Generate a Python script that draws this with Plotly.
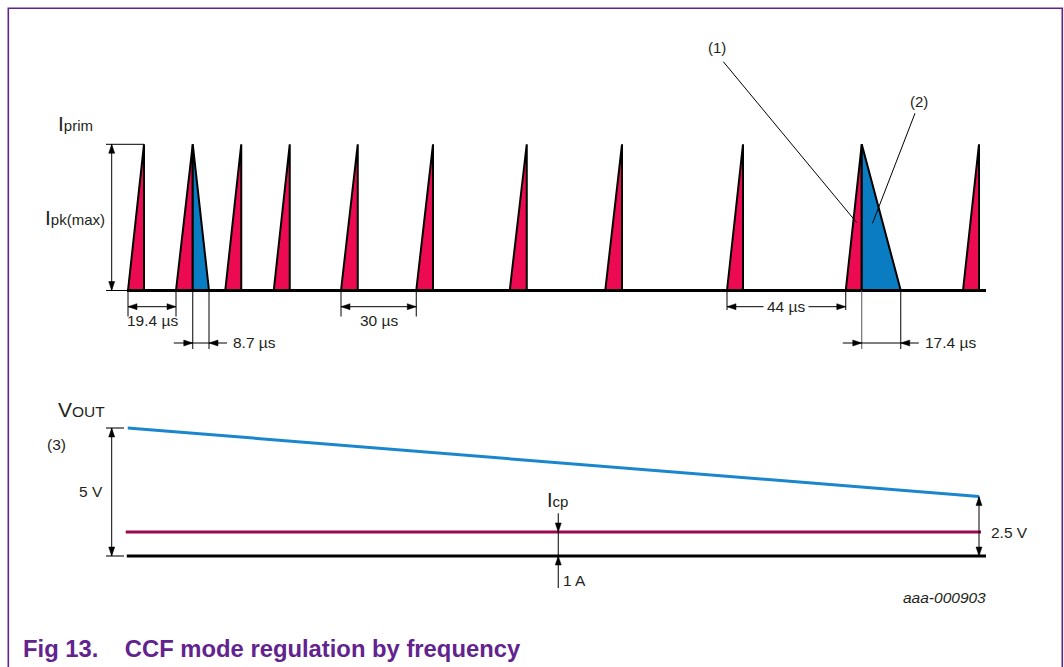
import plotly.graph_objects as go

W, H = 1064, 667

# ---------------- data (schematic time axis, µs) ----------------
pulse_start_us = [0.0, 19.2, 38.9, 58.3, 85.2, 115.3, 152.7, 190.9, 239.6, 287.1, 334.0]
pulse_on_us = [6.4, 6.7, 6.4, 6.4, 6.7, 6.7, 6.8, 6.7, 6.4, 6.4, 6.4]
demag_pulse_idx = [1, 9]
demag_us = [6.5, 15.6]
i_pk = 1.0

top_base_t = [-0.4, 343.2]

vout_t = [-0.1, 340.4]
vout_v = [5.0, 2.32]
icp_t = [-0.9, 341.2]
icp_v = [0.94, 0.94]
gnd_t = [-0.5, 343.2]
icp_marker_t = 172.1

period_pairs = [(0, 1), (4, 5), (8, 9)]
period_labels = ["19.4 µs", "30 µs", "44 µs"]
demag_labels = ["8.7 µs", "17.4 µs"]
vout_labels = ["5 V", "2.5 V"]

# ---------------- styling / mapping ----------------
FONT = "Liberation Sans, Arial, sans-serif"
TXT = "#231f20"
RED = "#EC0B52"
BLUE_FILL = "#0A7DC2"
BLUE_LINE = "#1A86CE"
MAROON = "#9A0A4B"
PURPLE = "#62238F"
GRAY = "#7a7a7a"

X0_PX, XS = 128.0, 2.5          # px of t=0, px per µs
TOPB_PX, TOPS = 290.5, 146.2    # px of I=0, px per unit I
LOWB_PX, LOWS = 556.0, 25.6     # px of V=0, px per V

def t2px(t): return X0_PX + t * XS
def px2t(px): return (px - X0_PX) / XS
def py2i(py): return (TOPB_PX - py) / TOPS
def i2py(i): return TOPB_PX - i * TOPS
def py2v(py): return (LOWB_PX - py) / LOWS
def v2py(v): return LOWB_PX - v * LOWS

fig = go.Figure()

def add_line(xs, ys, color="black", width=1, yaxis="y"):
    fig.add_trace(go.Scatter(x=xs, y=ys, mode="lines", yaxis=yaxis,
                             line=dict(color=color, width=width),
                             hoverinfo="skip", showlegend=False))

def add_poly(xs, ys, fill, color="black", width=2, yaxis="y"):
    fig.add_trace(go.Scatter(x=xs, y=ys, mode="lines", fill="toself", fillcolor=fill,
                             yaxis=yaxis, line=dict(color=color, width=width),
                             hoverinfo="skip", showlegend=False))

# arrow heads (collected, in pixel space then converted)
heads = {"y": ([], []), "y2": ([], [])}
HL, HW = 9.0, 3.0
def head(tip_px, tip_py, d, axis="y"):
    dx, dy = {"right": (1, 0), "left": (-1, 0), "up": (0, -1), "down": (0, 1)}[d]
    nx, ny = -dy, dx
    pts = [(tip_px, tip_py),
           (tip_px - HL * dx + HW * nx, tip_py - HL * dy + HW * ny),
           (tip_px - HL * dx - HW * nx, tip_py - HL * dy - HW * ny),
           (tip_px, tip_py)]
    conv = py2i if axis == "y" else py2v
    xs, ys = heads[axis]
    for (a, b) in pts:
        xs.append(px2t(a)); ys.append(conv(b))
    xs.append(None); ys.append(None)

# ---------------- top panel: primary current ----------------
add_line([px2t(106), pulse_start_us[0] + pulse_on_us[0]], [i_pk, i_pk], width=1)
add_line([px2t(106), top_base_t[0]], [0, 0], width=1)

for s, on in zip(pulse_start_us, pulse_on_us):
    add_poly([s, s + on, s + on, s], [0, i_pk, 0, 0], RED)
for k, dm in zip(demag_pulse_idx, demag_us):
    pk = pulse_start_us[k] + pulse_on_us[k]
    add_poly([pk, pk, pk + dm, pk], [0, i_pk, 0, 0], BLUE_FILL)

add_line(top_base_t, [0, 0], width=3)

xa = px2t(111.7)
add_line([xa, xa], [0, i_pk], width=1)
head(111.7, i2py(i_pk), "up")
head(111.7, i2py(0), "down")

annotations = []
def label(text, px, py, size=15.5, xanchor="left", **kw):
    annotations.append(dict(text=text, x=px / W, y=1 - py / H, xref="paper", yref="paper",
                            xanchor=xanchor, yanchor="middle", showarrow=False,
                            font=dict(family=FONT, size=size, color=kw.pop("color", TXT)), **kw))

for (a, b), lab in zip(period_pairs, period_labels):
    ta, tb = pulse_start_us[a], pulse_start_us[b]
    inline = lab == "44 µs"
    dim_py = 306.7
    ext_py = 310 if inline else 316.5
    add_line([ta, ta, None, tb, tb], [0, py2i(ext_py), None, 0, py2i(ext_py)], width=1)
    add_line([ta, tb], [py2i(dim_py)] * 2, width=1)
    head(t2px(ta), dim_py, "left")
    head(t2px(tb), dim_py, "right")
    mid = t2px((ta + tb) / 2)
    if inline:
        label(lab, mid, dim_py, xanchor="center", bgcolor="white", borderpad=3)
    else:
        label(lab, mid, 320.7, xanchor="center")

for k, dm, lab in zip(demag_pulse_idx, demag_us, demag_labels):
    pk = pulse_start_us[k] + pulse_on_us[k]
    en = pk + dm
    dim_py = 343
    col = "#555555" if k == 9 else "black"
    add_line([pk, pk], [0, py2i(349)], width=1, color=col)
    add_line([en, en], [0, py2i(349)], width=1)
    add_line([px2t(t2px(pk) - 19), px2t(t2px(en) + 18)], [py2i(dim_py)] * 2, width=1)
    head(t2px(pk), dim_py, "right")
    head(t2px(en), dim_py, "left")
    label(lab, t2px(en) + 22, dim_py)

p10 = 9
pk10 = pulse_start_us[p10] + pulse_on_us[p10]
add_line([px2t(723.3), pk10 - 2.0], [py2i(61.7), py2i(222.7)], width=1)
add_line([px2t(915.0), pk10 + 4.3], [py2i(113.3), py2i(223.3)], width=1)
label("(1)", 717, 48, size=15, xanchor="center")
label("(2)", 919, 101, size=15, xanchor="center")

label("I<span style='font-size:15px'>prim</span>", 56, 124, size=21)
label("I<span style='font-size:15px'>pk(max)</span>", 43, 217, size=21)

# ---------------- lower panel: output voltage ----------------
add_line([px2t(106), px2t(124)], [vout_v[0]] * 2, color=GRAY, width=2, yaxis="y2")
add_line([px2t(106), px2t(124)], [0, 0], color=GRAY, width=2, yaxis="y2")
add_line(vout_t, vout_v, color=BLUE_LINE, width=3, yaxis="y2")
add_line(icp_t, icp_v, color=MAROON, width=3, yaxis="y2")
add_line(gnd_t, [0, 0], color="black", width=3, yaxis="y2")

xv = px2t(111.7)
add_line([xv, xv], [0, vout_v[0]], width=1, yaxis="y2")
head(111.7, v2py(vout_v[0]), "up", "y2")
head(111.7, v2py(0), "down", "y2")
xe = vout_t[1]
add_line([xe, xe], [0, vout_v[1]], width=1, yaxis="y2")
head(t2px(xe), v2py(vout_v[1]), "up", "y2")
head(t2px(xe), v2py(0), "down", "y2")

add_line([icp_marker_t, icp_marker_t], [py2v(513.3), py2v(588)], width=1, yaxis="y2")
head(t2px(icp_marker_t), v2py(icp_v[0]), "down", "y2")
head(t2px(icp_marker_t), v2py(0), "up", "y2")

label("V<span style='font-size:15.5px'>OUT</span>", 56, 409, size=21)
label("(3)", 45, 444, size=15.5)
label(vout_labels[0], 105, 491, xanchor="right")
label(vout_labels[1], 989, 532)
label("I<span style='font-size:15px'>cp</span>", 557, 500, size=20, xanchor="center")
label("1 A", 561, 580)
label("<i>aaa-000903</i>", 988, 597, xanchor="right")

label("<b>Fig 13.\u00a0\u00a0\u00a0\u00a0CCF mode regulation by frequency</b>", 21, 648,
      size=23.8, color=PURPLE)

for ax, (hx, hy) in heads.items():
    fig.add_trace(go.Scatter(x=hx, y=hy, mode="lines", fill="toself", fillcolor="black",
                             yaxis=ax, line=dict(color="black", width=0.5),
                             hoverinfo="skip", showlegend=False))

fig.update_layout(
    width=W, height=H, margin=dict(l=0, r=0, t=0, b=0),
    paper_bgcolor="white", plot_bgcolor="white", showlegend=False,
    xaxis=dict(range=[px2t(0), px2t(W)], visible=False, fixedrange=True),
    yaxis=dict(range=[py2i(H), py2i(0)], visible=False, fixedrange=True),
    yaxis2=dict(range=[py2v(H), py2v(0)], visible=False, overlaying="y", fixedrange=True),
    annotations=annotations,
    shapes=[dict(type="rect", xref="paper", yref="paper",
                 x0=8.3 / W, x1=1062.3 / W, y0=-0.05, y1=1 - 8.3 / H,
                 line=dict(color=PURPLE, width=1.6), fillcolor="rgba(0,0,0,0)")],
)

fig.write_html("out.html")
